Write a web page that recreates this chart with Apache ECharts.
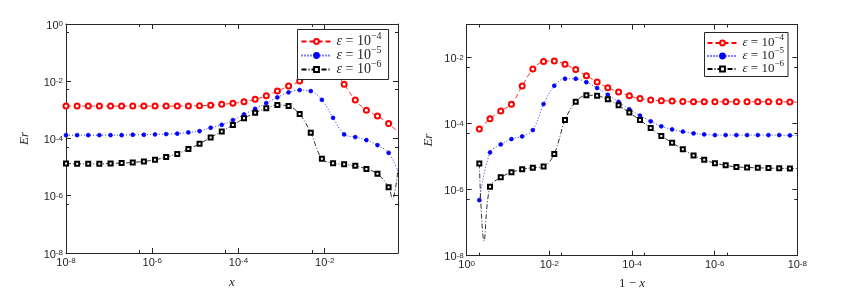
<!DOCTYPE html>
<html><head><meta charset="utf-8">
<script src="https://cdn.jsdelivr.net/npm/echarts@6/dist/echarts.min.js"></script>
<style>html,body{margin:0;padding:0;background:#fff}#c{width:850px;height:307px}</style>
</head><body><div id="c"></div>
<script>
// ---------- data ----------
const legendExps = ['−4', '−5', '−6'];
const seriesNames = ['eps4', 'eps5', 'eps6'];

// left panel: x
const xLeft = [1.00e-8,1.81e-8,3.28e-8,5.94e-8,1.08e-7,1.95e-7,3.53e-7,6.40e-7,1.16e-6,2.10e-6,
  3.80e-6,6.89e-6,1.25e-5,2.26e-5,4.09e-5,7.41e-5,1.34e-4,2.43e-4,4.41e-4,7.98e-4,
  1.45e-3,2.62e-3,4.74e-3,8.59e-3,1.56e-2,2.82e-2,5.11e-2,9.25e-2,1.67e-1,3.03e-1];
const redLeft = [1.36e-3,1.36e-3,1.36e-3,1.36e-3,1.36e-3,1.36e-3,1.36e-3,1.36e-3,1.36e-3,1.36e-3,
  1.36e-3,1.36e-3,1.40e-3,1.44e-3,1.56e-3,1.69e-3,1.92e-3,2.33e-3,3.11e-3,4.54e-3,
  6.79e-3,1.02e-2,2.10e-2,3.40e-2,2.47e-2,7.79e-3,2.20e-3,9.61e-4,6.07e-4,3.32e-4];
const blueLeft = [1.31e-4,1.31e-4,1.31e-4,1.31e-4,1.31e-4,1.31e-4,1.35e-4,1.35e-4,1.39e-4,1.43e-4,
  1.48e-4,1.63e-4,1.81e-4,2.37e-4,3.01e-4,4.39e-4,6.96e-4,1.09e-3,1.73e-3,2.73e-3,
  4.09e-3,4.92e-3,4.54e-3,2.25e-3,5.29e-4,1.39e-4,1.12e-4,8.79e-5,5.88e-5,3.16e-5];
const blackLeft = [1.35e-5,1.30e-5,1.30e-5,1.30e-5,1.35e-5,1.38e-5,1.46e-5,1.58e-5,1.80e-5,2.24e-5,
  2.90e-5,4.26e-5,6.53e-5,1.09e-4,1.77e-4,2.94e-4,5.05e-4,7.93e-4,1.13e-3,1.47e-3,
  1.36e-3,7.13e-4,1.58e-4,1.95e-5,1.36e-5,1.25e-5,1.11e-5,8.65e-6,5.83e-6,2.00e-6];
// un-marked line points at the right end of the left panel
const redLeftTailX = [0.5],        redLeftTail = [1.67e-4];
const blueLeftTailX = [0.5],       blueLeftTail = [7.24e-6];
const blackLeftTailX = [0.372, 0.5], blackLeftTail = [7.6e-7, 8.31e-6];

// right panel: 1 - x
const xRight = [0.495,0.273,0.150,0.0826,0.0455,0.0251,0.0138,7.60e-3,4.18e-3,2.30e-3,
  1.27e-3,6.98e-4,3.85e-4,2.11e-4,1.16e-4,6.41e-5,3.53e-5,1.95e-5,1.07e-5,5.89e-6,
  3.24e-6,1.79e-6,9.84e-7,5.41e-7,2.98e-7,1.64e-7,9.04e-8,4.98e-8,2.74e-8,1.51e-8];
const redRight = [6.81e-5,1.40e-4,2.42e-4,3.85e-4,1.37e-3,4.49e-3,7.56e-3,7.83e-3,6.22e-3,4.33e-3,
  2.81e-3,1.81e-3,1.22e-3,9.01e-4,6.91e-4,5.73e-4,5.16e-4,4.91e-4,4.81e-4,4.64e-4,
  4.58e-4,4.58e-4,4.58e-4,4.58e-4,4.58e-4,4.58e-4,4.58e-4,4.58e-4,4.58e-4,4.49e-4];
const blueRight = [4.81e-7,1.34e-5,2.34e-5,3.39e-5,4.09e-5,6.35e-5,3.90e-4,1.40e-3,2.28e-3,2.28e-3,
  1.79e-3,1.19e-3,7.46e-4,4.55e-4,2.71e-4,1.75e-4,1.17e-4,8.28e-5,6.67e-5,5.73e-5,
  5.05e-5,4.71e-5,4.49e-5,4.49e-5,4.49e-5,4.49e-5,4.49e-5,4.49e-5,4.49e-5,4.39e-5];
const blackRight = [6.14e-6,1.23e-6,2.36e-6,3.34e-6,4.12e-6,4.64e-6,4.98e-6,1.21e-5,1.28e-4,4.58e-4,
  7.21e-4,6.95e-4,5.41e-4,3.56e-4,2.15e-4,1.28e-4,7.31e-5,4.24e-5,2.62e-5,1.66e-5,
  1.09e-5,8.00e-6,6.35e-6,5.45e-6,4.87e-6,4.71e-6,4.58e-6,4.49e-6,4.42e-6,4.38e-6];
const rightTailX = 1e-8;
const redRightTail = 4.45e-4, blueRightTail = 4.39e-5, blackRightTail = 4.38e-6;
const blackRightDipX = 0.381, blackRightDipY = 2.75e-8;

// ---------- helpers ----------
const AX = '#262626';
function pts(xs, ys) { return xs.map((x, i) => [x, ys[i]]); }
function bare(x, y) { return { value: [x, y], symbol: 'none' }; }
function tickFmt(v) {
  const l = Math.log10(v), e = Math.round(l);
  if (Math.abs(l - e) > 1e-6 || e % 2 !== 0) return '';
  return '{b|10}{s|' + e + '}';
}
const labelRich = {
  b: { fontSize: 11, lineHeight: 11, verticalAlign: 'bottom', padding: [5, 0, 0, 0], color: AX, fontFamily: 'Liberation Sans' },
  s: { fontSize: 8, lineHeight: 8, verticalAlign: 'top', color: AX, fontFamily: 'Liberation Sans' }
};
function axis(o) {
  return Object.assign({
    type: 'log', logBase: 10, interval: 2,
    axisLine: { show: true, onZero: false, lineStyle: { color: AX, width: 1 } },
    axisTick: { show: true, inside: true, length: 5, lineStyle: { color: AX } },
    minorTick: { show: true, splitNumber: 2, length: 3, lineStyle: { color: AX } },
    splitLine: { show: false },
    nameTextStyle: { color: AX, fontFamily: 'Liberation Serif', fontStyle: 'italic', fontSize: 13 }
  }, o);
}
function lbl(isY, show) {
  return show ? { show: true, formatter: tickFmt, rich: labelRich, margin: isY ? 3 : 4,
                  padding: isY ? [3, 0, 0, 0] : 0 } : { show: false };
}
const styles = [
  { color: '#ff0000', type: [5, 3], symbol: 'emptyCircle', size: 5 },
  { color: '#0000ff', type: [1, 2], symbol: 'circle', size: 3.8 },
  { color: '#000000', type: [5, 2, 1, 2], symbol: 'emptyRect', size: 4 }
];
function ser(i, xi, yi, data) {
  const s = styles[i];
  return {
    type: 'line', name: seriesNames[i], xAxisIndex: xi, yAxisIndex: yi,
    data: data, smooth: 0.35, symbol: s.symbol, symbolSize: s.size,
    showAllSymbol: true, clip: true, animation: false,
    itemStyle: { color: s.color, borderColor: s.color, borderWidth: 0.8 },
    lineStyle: { color: s.color, width: 0.8, type: s.type }
  };
}
function legend(left, top, fs, pad, gap) {
  return {
    orient: 'vertical', left: left, top: top, data: seriesNames,
    backgroundColor: '#fff', borderColor: AX, borderWidth: 1, borderRadius: 0,
    padding: pad, itemGap: gap, itemWidth: 30, itemHeight: 6,
    selectedMode: false, z: 10,
    formatter: n => '{i|ε}{n| = 10}{s|' + legendExps[seriesNames.indexOf(n)] + '}',
    textStyle: {
      color: AX, fontFamily: 'Liberation Serif', fontSize: fs,
      rich: {
        i: { fontFamily: 'Liberation Serif', fontStyle: 'italic', fontSize: fs, lineHeight: fs, verticalAlign: 'bottom', color: AX },
        n: { fontFamily: 'Liberation Serif', fontSize: fs, lineHeight: fs, verticalAlign: 'bottom', color: AX },
        s: { fontFamily: 'Liberation Serif', fontSize: fs - 4, lineHeight: fs - 4, verticalAlign: 'bottom', padding: [0, 0, 7, 0], color: AX }
      }
    }
  };
}

// ---------- chart ----------
const chart = echarts.init(document.getElementById('c'), null, { renderer: 'canvas' });
const lx = { min: 1e-8, max: 0.5 }, ly = { min: 1e-8, max: 1 };
const rx = { min: 1e-8, max: 1, inverse: true }, ry = { min: 1e-8, max: 0.1 };

const blackRightData = [pts([xRight[0]], [blackRight[0]])[0], bare(blackRightDipX, blackRightDipY)]
  .concat(pts(xRight.slice(1), blackRight.slice(1)), [bare(rightTailX, blackRightTail)]);

chart.setOption({
  animation: false,
  backgroundColor: '#fff',
  grid: [
    { left: 66, top: 24, width: 332, height: 229, containLabel: false },
    { left: 466.7, top: 24.5, width: 330.6, height: 231.2, containLabel: false }
  ],
  xAxis: [
    axis(Object.assign({ gridIndex: 0, position: 'bottom', axisLabel: lbl(false, true),
      name: 'x', nameLocation: 'middle', nameGap: 23 }, lx)),
    axis(Object.assign({ gridIndex: 0, position: 'top', axisLabel: lbl(false, false) }, lx)),
    axis(Object.assign({ gridIndex: 1, position: 'bottom', axisLabel: lbl(false, true),
      name: '1 − {i|x}', nameLocation: 'middle', nameGap: 21,
      nameTextStyle: { color: AX, fontFamily: 'Liberation Serif', fontSize: 13,
        rich: { i: { fontFamily: 'Liberation Serif', fontStyle: 'italic', fontSize: 13, color: AX } } } }, rx)),
    axis(Object.assign({ gridIndex: 1, position: 'top', axisLabel: lbl(false, false) }, rx))
  ],
  yAxis: [
    axis(Object.assign({ gridIndex: 0, position: 'left', axisLabel: lbl(true, true),
      name: 'Er', nameLocation: 'middle', nameGap: 35 }, ly)),
    axis(Object.assign({ gridIndex: 0, position: 'right', axisLabel: lbl(true, false) }, ly)),
    axis(Object.assign({ gridIndex: 1, position: 'left', axisLabel: lbl(true, true),
      name: 'Er', nameLocation: 'middle', nameGap: 32 }, ry)),
    axis(Object.assign({ gridIndex: 1, position: 'right', axisLabel: lbl(true, false) }, ry))
  ],
  legend: [legend(297.5, 29.5, 14, [2, 7, 3, 3], -3), legend(704.5, 32.5, 13, [1, 4, 1, 2], -3)],
  series: [
    ser(0, 0, 0, pts(xLeft, redLeft).concat([bare(redLeftTailX[0], redLeftTail[0])])),
    ser(1, 0, 0, pts(xLeft, blueLeft).concat([bare(blueLeftTailX[0], blueLeftTail[0])])),
    ser(2, 0, 0, pts(xLeft, blackLeft).concat(blackLeftTailX.map((x, i) => bare(x, blackLeftTail[i])))),
    ser(0, 2, 2, pts(xRight, redRight).concat([bare(rightTailX, redRightTail)])),
    ser(1, 2, 2, pts(xRight, blueRight).concat([bare(rightTailX, blueRightTail)])),
    ser(2, 2, 2, blackRightData)
  ]
});
</script></body></html>
